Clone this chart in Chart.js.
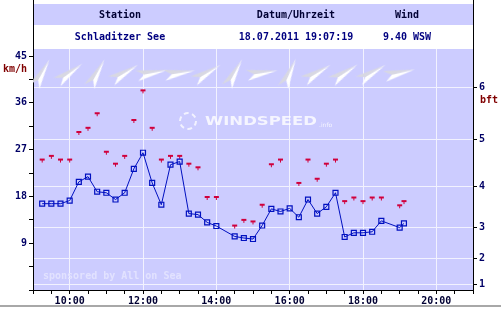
<!DOCTYPE html>
<html>
<head>
<meta charset="utf-8">
<script src="https://cdn.jsdelivr.net/npm/chart.js@4.4.0/dist/chart.umd.min.js"></script>
<style>
  html, body { margin: 0; padding: 0; background: #fff; }
  #wrap { width: 501px; height: 310px; position: relative; }
</style>
</head>
<body>
<div id="wrap"><canvas id="windChart"></canvas></div>
<script>
// Measurements (km/h), 15 min steps
const times = ['09:15', '09:30', '09:45', '10:00', '10:15', '10:30', '10:45', '11:00', '11:15', '11:30',
    '11:45', '12:00', '12:15', '12:30', '12:45', '13:00', '13:15', '13:30', '13:45', '14:00',
    '14:30', '14:45', '15:00', '15:15', '15:30', '15:45', '16:00', '16:15', '16:30', '16:45',
    '17:00', '17:15', '17:30', '17:45', '18:00', '18:15', '18:30', '19:00', '19:07'];
const avgSpeed = [16.6, 16.6, 16.6, 17.2, 20.8, 21.8, 18.9, 18.7, 17.4, 18.7,
    23.3, 26.4, 20.6, 16.4, 24.1, 24.7, 14.7, 14.5, 13.0, 12.3,
    10.3, 10.0, 9.8, 12.4, 15.6, 15.1, 15.7, 14.0, 17.4, 14.7,
    16.0, 18.7, 10.2, 11.0, 11.0, 11.2, 13.3, 12.0, 12.8];
const gustSpeed = [25.0, 25.7, 25.0, 25.0, 30.3, 31.1, 33.9, 26.5, 24.2, 25.7,
    32.6, 38.3, 31.1, 25.0, 25.7, 25.7, 24.2, 23.5, 17.8, 17.8,
    12.3, 13.4, 13.1, 16.3, 24.1, 25.0, null, 20.5, 25.0, 21.3,
    24.2, 25.0, 17.0, 17.7, 17.0, 17.7, 17.7, 16.2, 17.0];

// Wind direction (degrees, from) shown as arrows along the top
const arrowTimes = ['09:15', '10:00', '10:45', '11:30', '12:15', '13:00', '13:45',
    '14:30', '15:15', '16:00', '16:45', '17:30', '18:15', '19:00'];
const arrowDir = [210, 235, 210, 240, 260, 262, 240, 210, 262, 205, 240, 238, 240, 258];
const arrowLevel = 41.7;

// Axis ticks
const hourLabels = ['10:00', '12:00', '14:00', '16:00', '18:00', '20:00'];
const kmhLabels = [9, 18, 27, 36, 45];
const bftKmh = [1, 6, 12, 20, 29, 39];
const bftLabels = ['1', '2', '3', '4', '5', '6'];

// Header
const headerTitles = ['Station', 'Datum/Uhrzeit', 'Wind'];
const headerValues = ['Schladitzer See', '18.07.2011 19:07:19', '9.40 WSW'];

const MONO = "'DejaVu Sans Mono', monospace";
const PLOT_BG = '#ccccff';

function toHours(s) {
    const p = s.split(':');
    return +p[0] + p[1] / 60;
}

// Gust marker: small "T"
function makeGustImage() {
    const c = document.createElement('canvas');
    c.width = 7; c.height = 9;
    const g = c.getContext('2d');
    g.fillStyle = '#d0003c';
    g.fillRect(1, 3, 5, 2);
    g.fillRect(3, 5, 1, 2);
    return c;
}

// Direction arrow, pointing right (rotated per point)
function makeArrowImage() {
    const c = document.createElement('canvas');
    c.width = 32; c.height = 12;
    const g = c.getContext('2d');
    g.fillStyle = '#d8d8e2';
    g.beginPath();
    g.moveTo(31.5, 5.5); g.lineTo(0, 0.5); g.lineTo(8, 6); g.closePath();
    g.fill();
    g.fillStyle = '#ffffff';
    g.beginPath();
    g.moveTo(31.5, 5.5); g.lineTo(8, 6); g.lineTo(1, 11.5); g.closePath();
    g.fill();
    return c;
}

const gustImg = makeGustImage();
const arrowImg = makeArrowImage();

const xTicks = [];
for (let h = 9; h <= 21; h += 0.5) xTicks.push(h);
const yTicks = [];
for (let k = 0; k <= 45; k += 4.5) yTicks.push(Math.round(k * 10) / 10);

const framePlugin = {
    id: 'frame',
    beforeDraw(chart) {
        const { ctx, chartArea: a } = chart;
        ctx.save();
        ctx.fillStyle = '#fff';
        ctx.fillRect(0, 0, chart.width, chart.height);
        ctx.fillStyle = PLOT_BG;
        ctx.fillRect(a.left, a.top, a.right - a.left, a.bottom - a.top);
        ctx.fillRect(a.left, 4, a.right - a.left, 21);
        ctx.restore();
    },
    beforeDatasetsDraw(chart) {
        const { ctx } = chart;
        ctx.save();
        // watermark
        ctx.strokeStyle = 'rgba(255,255,255,0.75)';
        ctx.lineWidth = 2;
        for (let i = 0; i < 6; i++) {
            const s = i * Math.PI / 3;
            ctx.beginPath();
            ctx.arc(188, 121, 8, s, s + 0.6);
            ctx.stroke();
        }
        ctx.fillStyle = 'rgba(255,255,255,0.8)';
        ctx.font = "bold 13px 'DejaVu Sans', sans-serif";
        ctx.textBaseline = 'middle';
        const w = ctx.measureText('WINDSPEED').width;
        ctx.save();
        ctx.translate(205, 122);
        ctx.scale(112 / w, 1);
        ctx.fillText('WINDSPEED', 0, 0);
        ctx.restore();
        ctx.font = "6px 'DejaVu Sans', sans-serif";
        ctx.fillText('.info', 319, 125);
        // sponsor
        ctx.fillStyle = '#e2e2ff';
        ctx.font = 'bold 10px ' + MONO;
        ctx.textAlign = 'left';
        ctx.fillText('sponsored by All on Sea', 43, 276);
        ctx.restore();
    },
    afterDraw(chart) {
        const { ctx, chartArea: a } = chart;
        ctx.save();
        ctx.strokeStyle = '#000';
        ctx.lineWidth = 1;
        ctx.beginPath();
        ctx.moveTo(a.left + 0.5, 0); ctx.lineTo(a.left + 0.5, a.top);
        ctx.moveTo(a.right + 0.5, 0); ctx.lineTo(a.right + 0.5, a.top);
        ctx.stroke();

        ctx.font = 'bold 10px ' + MONO;
        ctx.textAlign = 'center';
        ctx.textBaseline = 'middle';
        const cols = [120, 296, 407];
        headerTitles.forEach((t, i) => {
            ctx.fillStyle = '#000033';
            ctx.fillText(t, cols[i], 15);
        });
        headerValues.forEach((t, i) => {
            ctx.fillStyle = '#000080';
            ctx.fillText(t, cols[i], 37);
        });

        ctx.fillStyle = '#800000';
        ctx.textAlign = 'left';
        ctx.fillText('km/h', 3, 69);
        ctx.fillText('bft', 480, 100);

        ctx.fillStyle = '#a8a8a8';
        ctx.fillRect(0, 305, chart.width, 2);
        ctx.restore();
    }
};

new Chart(document.getElementById('windChart'), {
    type: 'line',
    data: {
        datasets: [
            {
                label: 'Wind',
                data: times.map((t, i) => ({ x: toHours(t), y: avgSpeed[i] })),
                borderColor: '#0010c0',
                borderWidth: 1,
                pointStyle: 'rect',
                pointRadius: 3.5,
                pointBorderWidth: 1.2,
                pointBorderColor: '#0010c0',
                pointBackgroundColor: 'rgba(0,0,0,0)',
                tension: 0,
                order: 1
            },
            {
                label: 'Boen',
                data: times.map((t, i) => ({ x: toHours(t), y: gustSpeed[i] })),
                showLine: false,
                pointStyle: gustImg,
                order: 2
            },
            {
                label: 'Richtung',
                data: arrowTimes.map(t => ({ x: toHours(t), y: arrowLevel })),
                showLine: false,
                pointStyle: arrowImg,
                rotation: arrowDir.map(d => d - 270),
                order: 3
            }
        ]
    },
    options: {
        responsive: true,
        maintainAspectRatio: false,
        animation: false,
        events: [],
        layout: { padding: { top: 49, left: 0, right: 0, bottom: 0 } },
        plugins: {
            legend: { display: false },
            tooltip: { enabled: false }
        },
        scales: {
            x: {
                type: 'linear',
                min: 9,
                max: 21,
                afterBuildTicks: s => { s.ticks = xTicks.map(v => ({ value: v })); },
                afterFit: s => { s.height = 20; },
                border: { color: '#000', width: 1 },
                grid: {
                    color: c => (c.tick && c.tick.value % 2 === 0 && c.tick.value > 9 && c.tick.value < 21) ? '#f2f2ff' : 'rgba(0,0,0,0)',
                    tickColor: '#000',
                    tickLength: 4
                },
                ticks: {
                    autoSkip: false,
                    maxRotation: 0,
                    padding: 1,
                    color: '#000033',
                    font: { family: MONO, size: 10, weight: 'bold' },
                    callback: v => {
                        const idx = hourLabels.indexOf((v < 10 ? '0' : '') + v + ':00');
                        return idx >= 0 ? hourLabels[idx] : '';
                    }
                }
            },
            y: {
                position: 'left',
                min: 0,
                max: 46.35,
                afterBuildTicks: s => { s.ticks = yTicks.map(v => ({ value: v })); },
                afterFit: s => { s.width = 33; },
                border: { color: '#000', width: 1 },
                grid: { drawOnChartArea: false, tickColor: '#000', tickLength: 4 },
                ticks: {
                    autoSkip: false,
                    padding: 2,
                    color: '#000066',
                    font: { family: MONO, size: 10, weight: 'bold' },
                    callback: v => kmhLabels.includes(v) ? String(v) : ''
                }
            },
            y2: {
                position: 'right',
                min: 0,
                max: 46.35,
                afterBuildTicks: s => { s.ticks = bftKmh.map(v => ({ value: v })); },
                afterFit: s => { s.width = 28; },
                border: { color: '#000', width: 1 },
                grid: { color: '#f2f2ff', tickColor: '#000', tickLength: 4 },
                ticks: {
                    autoSkip: false,
                    padding: 2,
                    color: '#000066',
                    font: { family: MONO, size: 10, weight: 'bold' },
                    callback: (v, i) => bftLabels[i]
                }
            }
        }
    },
    plugins: [framePlugin]
});
</script>
</body>
</html>
